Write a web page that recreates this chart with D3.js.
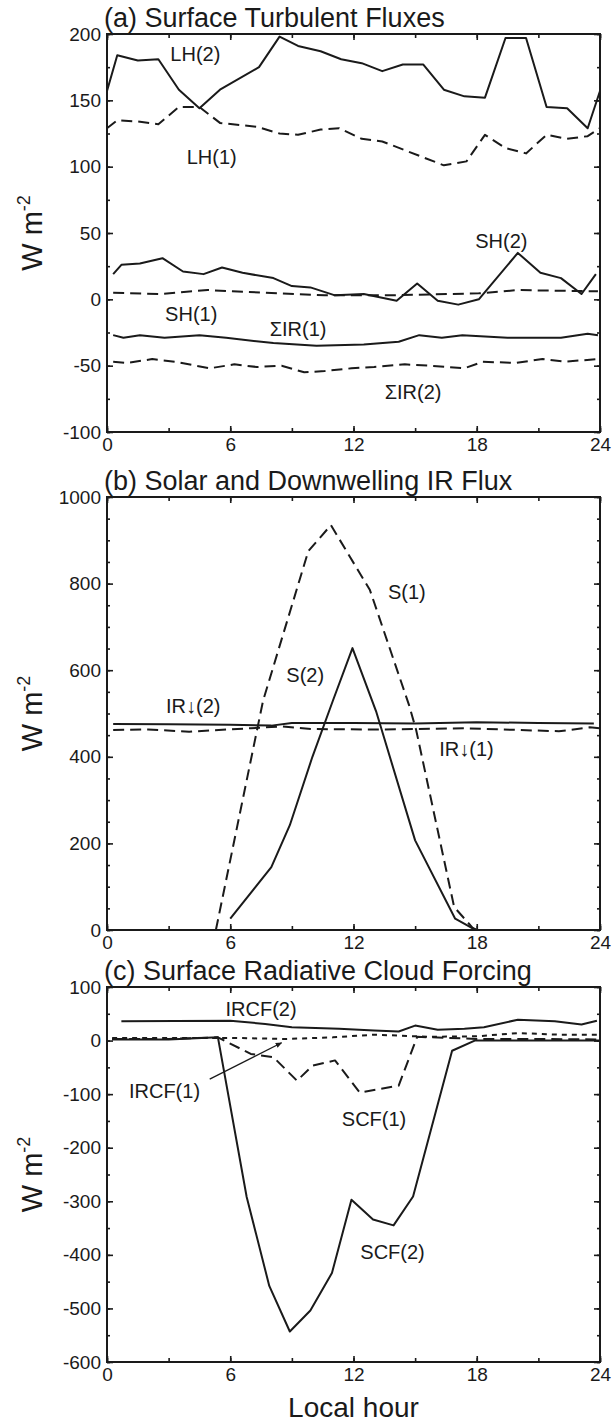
<!DOCTYPE html>
<html><head><meta charset="utf-8">
<script src="https://cdn.jsdelivr.net/npm/d3@7"></script>
<style>
body{margin:0;background:#fff}
text{font-family:"Liberation Sans",Arial,Helvetica,sans-serif;fill:#1a1a1a}
</style></head>
<body><svg id="chart" width="612" height="1424"></svg>
<script>
// ---------- data ----------
const hourTicks = [0, 6, 12, 18, 24];

// (a) Surface turbulent fluxes
const lh2Hours = [0,0.5,1.5,2.5,3.5,4.5,5.5,7.4,8.4,9.3,10.4,11.4,12.4,13.4,14.4,15.4,16.4,17.4,18.4,19.4,20.4,21.4,22.4,23.4,24];
const lh2Values = [157,184,180,181,158,144,158,175,198,191,187,181,178,172,177,177,158,153,152,197,197,145,144,129,157];
const lh1Hours = [0,0.5,1.5,2.5,3.5,4.5,5.5,7.3,8.4,9.3,10.4,11.3,12.4,13.4,14.4,15.4,16.4,17.5,18.4,19.4,20.4,21.4,22.4,23.4,24];
const lh1Values = [129,135,134,132,145,145,133,130,125,124,128,129,121,119,113,107,101,104,124,114,110,124,121,123,129];
const sh2Hours = [0.3,0.7,1.6,2.7,3.7,4.7,5.6,6.6,8.1,9.0,9.9,11.1,12.5,14.1,15.1,16.1,17.1,18.1,20.0,21.1,22.1,23.1,23.8];
const sh2Values = [19,26,27,31,21,19,24,20,16,10,9,3,4,-1,12,-1,-4,0,35,20,16,4,19];
const sh1Hours = [0.3,2.6,4.9,6.1,8.4,10.6,13.7,18.1,20.0,23.9];
const sh1Values = [5,4,7,6,4.5,3,3,4.5,7,6];
const ir1Hours = [0.3,0.8,1.6,2.8,4.5,5.8,8.1,10.2,12.5,14.2,15.2,16.3,17.3,19.5,22.1,23.4,23.9];
const ir1Values = [-27,-29,-27,-29,-27,-29,-33,-35,-34,-32,-27,-29,-27,-29,-29,-26,-27];
const ir2Hours = [0.3,1.0,2.2,3.3,5.0,6.2,7.3,8.5,9.6,10.6,11.9,13.0,14.5,15.7,17.4,18.3,19.9,21.2,22.3,23.9];
const ir2Values = [-47,-48,-45,-47,-52,-49,-51,-50,-55,-54,-52,-51,-49,-50,-52,-47,-48,-45,-47,-45];

// (b) Solar and downwelling IR flux
const s1Hours = [5.3,7.6,9.8,10.9,12.8,14.7,15.05,16.9,17.8,18];
const s1Values = [0,530,875,935,785,520,462,53,5,0];
const s2Hours = [6.0,8.0,8.9,10.0,11.0,11.95,13.1,15.0,16.95,17.8,18];
const s2Values = [26,145,242,400,530,651,505,207,26,4,0];
const ird2Hours = [0.3,3,6,8,9,12,15,18,21,23.7];
const ird2Values = [476,475,474,472,478,478,477,480,478,477];
const ird1Hours = [0.3,2,4,7,8.5,10,13,15,17.4,20,22,23.5,24];
const ird1Values = [462,463,458,466,470,464,463,464,466,462,459,468,466];

// (c) Surface radiative cloud forcing
const ircf2Hours = [0.7,6.0,7.7,9.0,11.3,13.0,14.2,15.0,16.1,17.4,18.35,20.0,21.8,23.1,23.85];
const ircf2Values = [36,37,31,25,22,19,17,28,20,22,25,39,36,30,37];
const ircf1Hours = [0.25,3,6,8.7,11,13,15.7,18,20,22,23.85];
const ircf1Values = [5,5,5,3,6,11,7,8,14,11,11];
const scf1Hours = [0.25,3,5.4,7.0,8.1,9.25,10.0,11.1,12.3,14.2,15.1,18,21,24];
const scf1Values = [3,3,6,-25,-31,-75,-47,-37,-97,-84,7,3,3,2];
const scf2Hours = [0.25,3,5.4,6.8,7.9,8.9,9.9,10.95,11.9,12.95,13.95,14.9,16.8,17.9,21,24];
const scf2Values = [2,2,6,-292,-458,-543,-504,-434,-297,-334,-345,-291,-19,0,0,0];

// ---------- layout ----------
const svg = d3.select("#chart");
const X0 = 107, X1 = 600;
const x = d3.scaleLinear().domain([0, 24]).range([X0, X1]);
const black = "#1a1a1a";
const fmt = d => String(d);

const panels = [
  {title: "(a) Surface Turbulent Fluxes", top: 34, bottom: 432, domain: [-100, 200], major: 50, minor: 25},
  {title: "(b) Solar and Downwelling IR Flux", top: 497, bottom: 930, domain: [0, 1000], major: 200, minor: 50},
  {title: "(c) Surface Radiative Cloud Forcing", top: 987, bottom: 1362, domain: [-600, 100], major: 100, minor: 50}
];

const solid = null, dash = "11,6", shortDash = "5,5";
const series = [
  [{h: lh2Hours, v: lh2Values, d: solid}, {h: lh1Hours, v: lh1Values, d: dash},
   {h: sh2Hours, v: sh2Values, d: solid}, {h: sh1Hours, v: sh1Values, d: dash},
   {h: ir1Hours, v: ir1Values, d: solid}, {h: ir2Hours, v: ir2Values, d: dash}],
  [{h: s1Hours, v: s1Values, d: dash}, {h: s2Hours, v: s2Values, d: solid},
   {h: ird2Hours, v: ird2Values, d: solid}, {h: ird1Hours, v: ird1Values, d: dash}],
  [{h: ircf2Hours, v: ircf2Values, d: solid}, {h: ircf1Hours, v: ircf1Values, d: shortDash},
   {h: scf1Hours, v: scf1Values, d: dash}, {h: scf2Hours, v: scf2Values, d: solid}]
];

const labels = [
  [{t: "LH(2)", h: 4.3, v: 185}, {t: "LH(1)", h: 5.1, v: 107}, {t: "SH(2)", h: 19.2, v: 44},
   {t: "SH(1)", h: 4.1, v: -11}, {t: "ΣIR(1)", h: 9.3, v: -22}, {t: "ΣIR(2)", h: 14.9, v: -70}],
  [{t: "S(1)", h: 14.6, v: 781}, {t: "S(2)", h: 9.65, v: 589}, {t: "IR↓(2)", h: 4.2, v: 518},
   {t: "IR↓(1)", h: 17.5, v: 418}],
  [{t: "IRCF(2)", h: 7.5, v: 59}, {t: "IRCF(1)", h: 2.8, v: -94}, {t: "SCF(1)", h: 13.0, v: -147},
   {t: "SCF(2)", h: 13.9, v: -394}]
];

svg.append("defs").append("marker")
  .attr("id", "arrow").attr("viewBox", "0 0 10 10").attr("refX", 9).attr("refY", 5)
  .attr("markerWidth", 5).attr("markerHeight", 5).attr("orient", "auto")
  .append("path").attr("d", "M0,1 L10,5 L0,9 Z").attr("fill", black);

panels.forEach((p, i) => {
  const y = d3.scaleLinear().domain(p.domain).range([p.bottom, p.top]);
  const g = svg.append("g");

  // title
  g.append("text").attr("x", 104).attr("y", p.top - 7)
    .attr("font-size", 27).text(p.title);

  // y-axis label
  const cy = (p.top + p.bottom) / 2;
  const yl = g.append("text").attr("transform", `translate(42,${cy}) rotate(-90)`)
    .attr("text-anchor", "middle").attr("font-size", 29);
  yl.append("tspan").text("W m");
  yl.append("tspan").attr("font-size", 18).attr("dy", -12).text("-2");

  // lines
  const line = d3.line().x(d => x(d[0])).y(d => y(d[1]));
  series[i].forEach(s => {
    const pts = s.h.map((h, k) => [h, s.v[k]]);
    g.append("path").attr("d", line(pts)).attr("fill", "none")
      .attr("stroke", black).attr("stroke-width", 2)
      .attr("stroke-dasharray", s.d).attr("stroke-linejoin", "round");
  });

  // tick marks (inward, all four sides)
  const yMajor = d3.range(p.domain[0], p.domain[1] + 0.1, p.major);
  const yMinor = d3.range(p.domain[0], p.domain[1] + 0.1, p.minor);
  const xMinor = d3.range(0, 24.1, 3);

  const tickSets = [
    [d3.axisRight(y).tickValues(yMajor).tickSize(6), `translate(${X0},0)`],
    [d3.axisRight(y).tickValues(yMinor).tickSize(3), `translate(${X0},0)`],
    [d3.axisLeft(y).tickValues(yMajor).tickSize(6), `translate(${X1},0)`],
    [d3.axisLeft(y).tickValues(yMinor).tickSize(3), `translate(${X1},0)`],
    [d3.axisTop(x).tickValues(hourTicks).tickSize(6), `translate(0,${p.bottom})`],
    [d3.axisTop(x).tickValues(xMinor).tickSize(4), `translate(0,${p.bottom})`],
    [d3.axisBottom(x).tickValues(hourTicks).tickSize(6), `translate(0,${p.top})`],
    [d3.axisBottom(x).tickValues(xMinor).tickSize(4), `translate(0,${p.top})`]
  ];
  tickSets.forEach(([ax, tr]) => {
    const a = g.append("g").attr("transform", tr).call(ax.tickFormat(""));
    a.select(".domain").remove();
    a.selectAll("line").attr("stroke", black).attr("stroke-width", 1.6);
  });

  // frame
  g.append("rect").attr("x", X0).attr("y", p.top).attr("width", X1 - X0)
    .attr("height", p.bottom - p.top).attr("fill", "none")
    .attr("stroke", black).attr("stroke-width", 2);

  // tick labels
  const ya = g.append("g").attr("transform", `translate(${X0},0)`)
    .call(d3.axisLeft(y).tickValues(yMajor).tickSize(0).tickPadding(6).tickFormat(fmt));
  ya.select(".domain").remove();
  ya.selectAll("text").attr("font-size", 19).attr("font-family", "Liberation Sans, Arial, sans-serif").attr("fill", black);

  const xa = g.append("g").attr("transform", `translate(0,${p.bottom})`)
    .call(d3.axisBottom(x).tickValues(hourTicks).tickSize(0).tickPadding(6).tickFormat(fmt));
  xa.select(".domain").remove();
  xa.selectAll("text").attr("font-size", 19).attr("font-family", "Liberation Sans, Arial, sans-serif").attr("fill", black);

  // series labels
  labels[i].forEach(l => {
    g.append("text").attr("x", x(l.h)).attr("y", y(l.v)).attr("dy", "0.35em")
      .attr("text-anchor", "middle").attr("font-size", 20).text(l.t);
  });

  if (i === 2) {
    g.append("line").attr("x1", x(5.0)).attr("y1", y(-72))
      .attr("x2", x(8.5)).attr("y2", y(-4))
      .attr("stroke", black).attr("stroke-width", 1.3).attr("marker-end", "url(#arrow)");
  }
});

svg.append("text").attr("x", x(12)).attr("y", 1417).attr("text-anchor", "middle")
  .attr("font-size", 28).text("Local hour");
</script></body></html>
